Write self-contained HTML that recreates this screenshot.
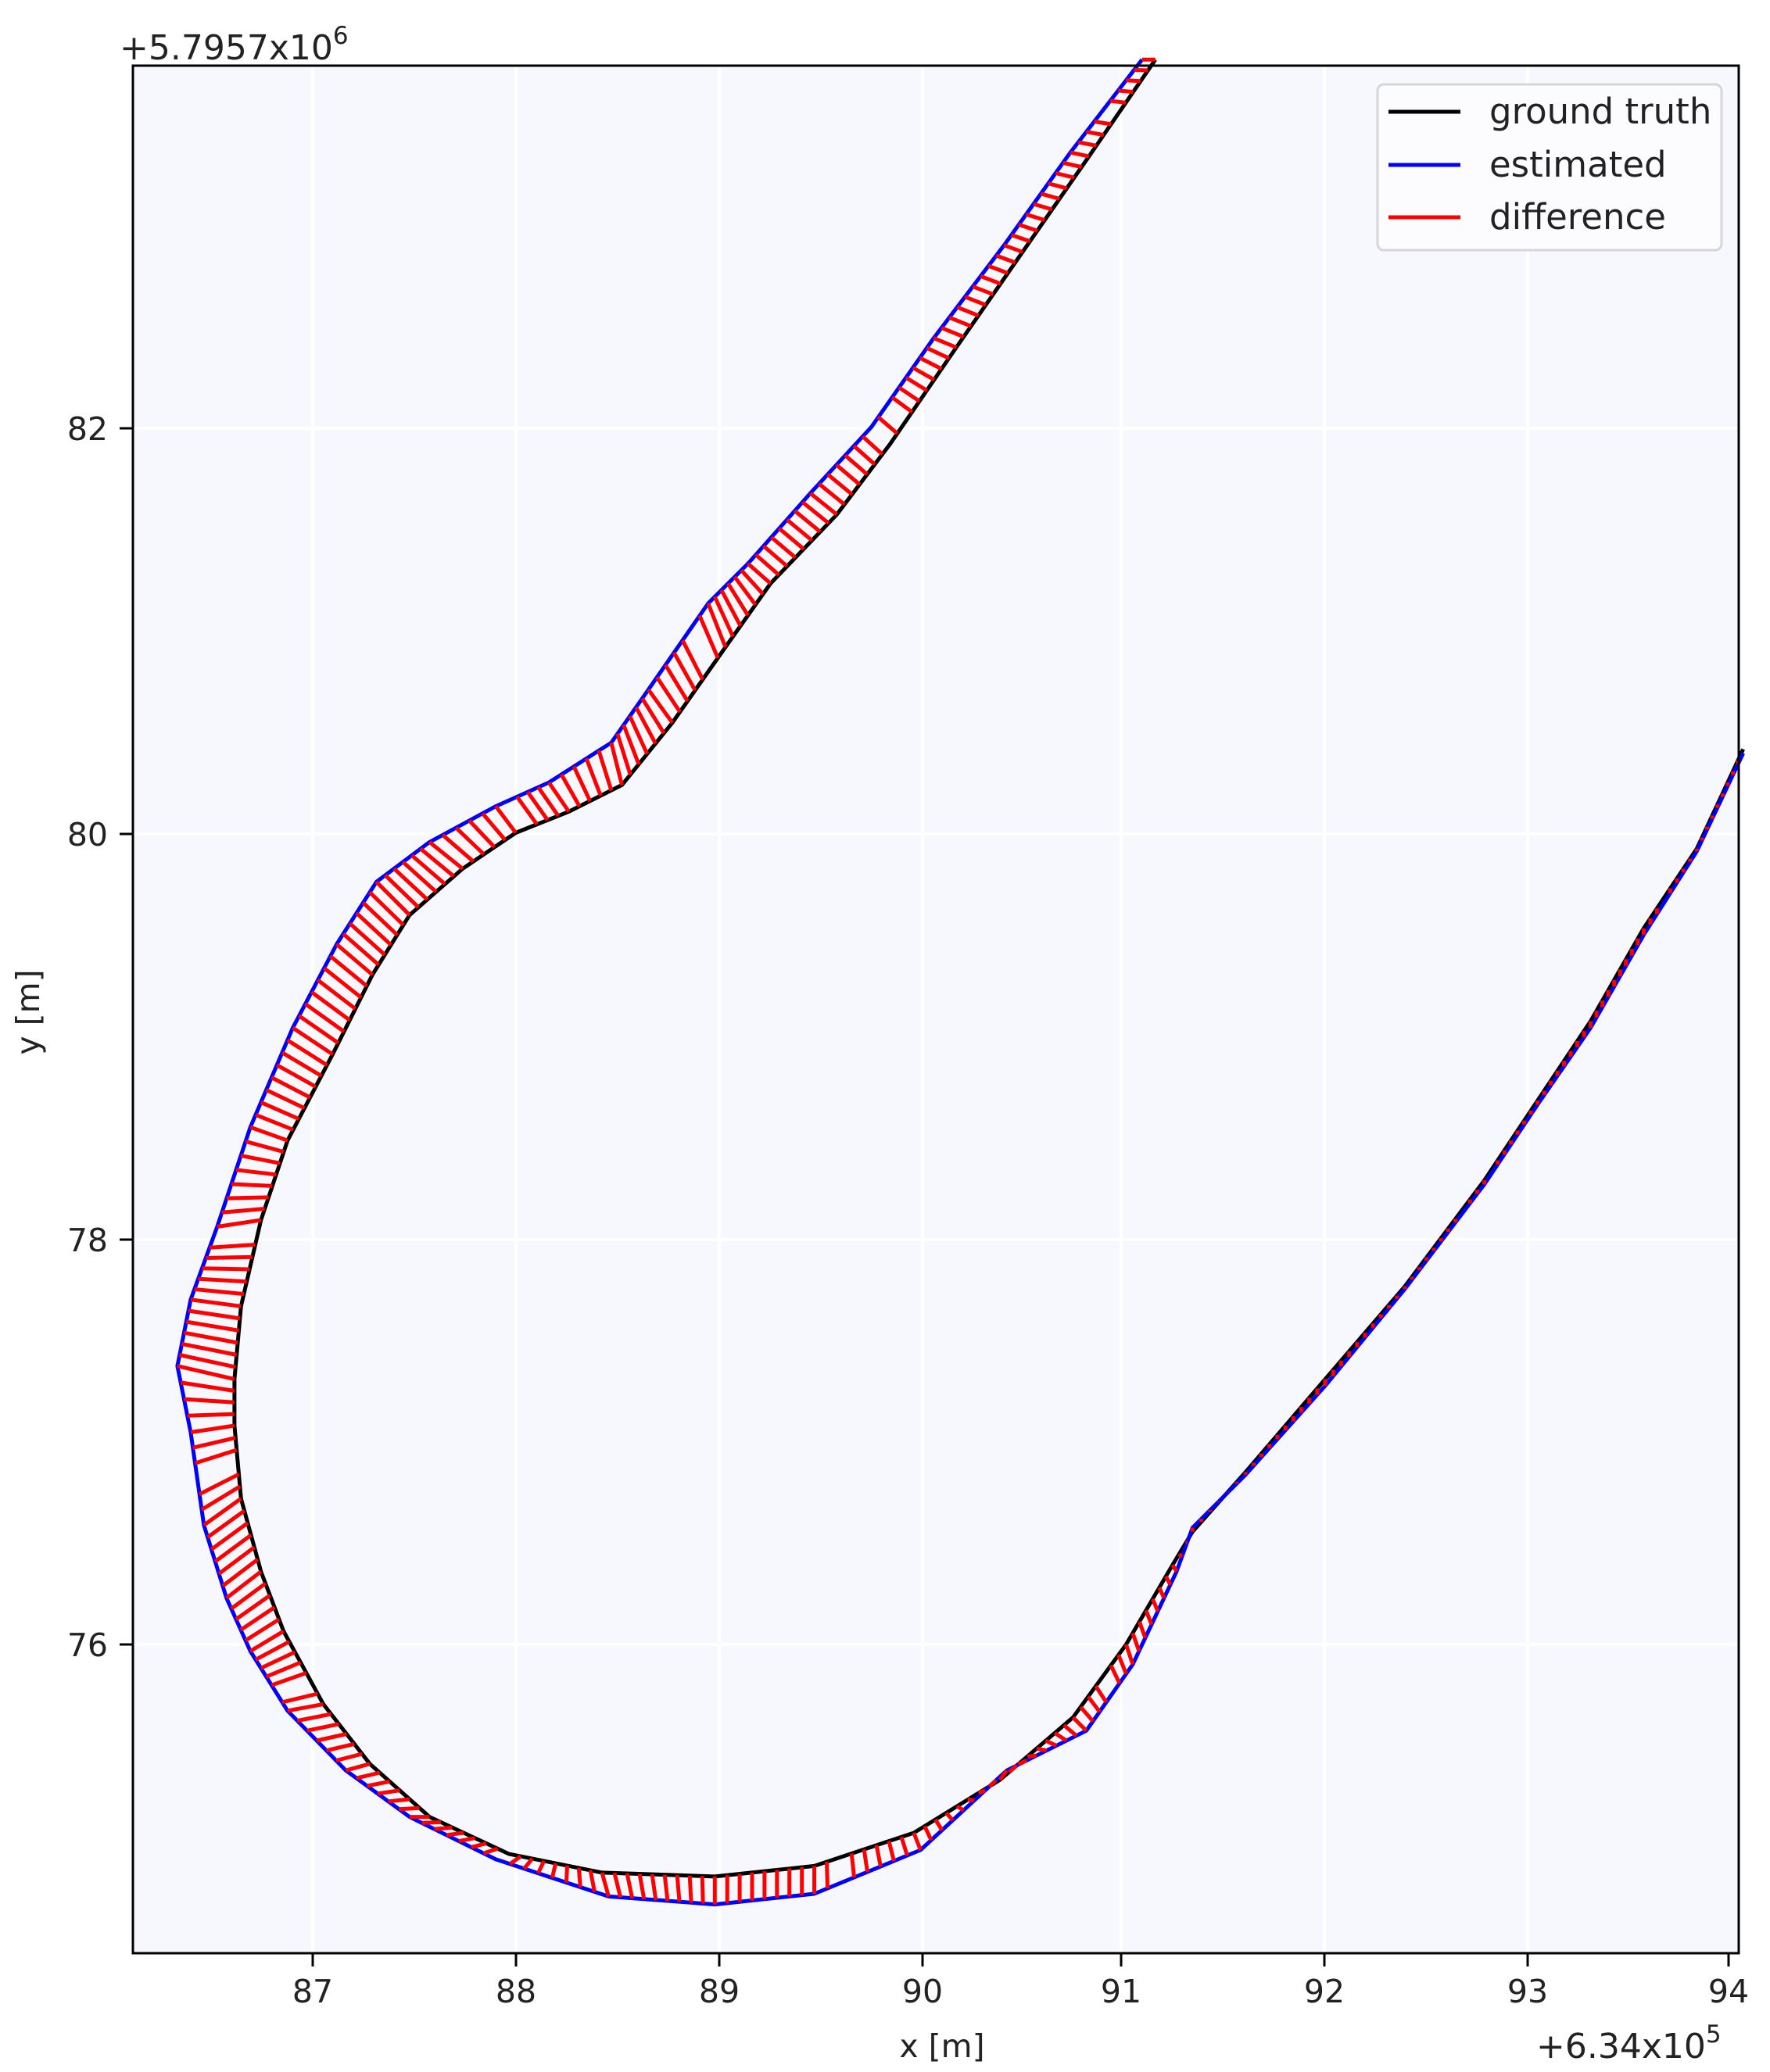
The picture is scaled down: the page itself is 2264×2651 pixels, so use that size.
<!DOCTYPE html>
<html><head><meta charset="utf-8"><style>
html,body{margin:0;padding:0;background:#fff;}
svg{display:block;font-family:"DejaVu Sans","Liberation Sans",sans-serif;}
</style></head><body>
<svg id="s" width="2264" height="2651" viewBox="0 0 2264 2651" xmlns="http://www.w3.org/2000/svg">
<rect x="0" y="0" width="2264" height="2651" fill="#fff"/>
<rect x="170" y="84" width="2054" height="2415" fill="#f7f8fe"/>
<g stroke="#fff" stroke-width="4">
<line x1="400" y1="84" x2="400" y2="2499"/><line x1="660" y1="84" x2="660" y2="2499"/>
<line x1="920" y1="84" x2="920" y2="2499"/><line x1="1180" y1="84" x2="1180" y2="2499"/>
<line x1="1434" y1="84" x2="1434" y2="2499"/><line x1="1694" y1="84" x2="1694" y2="2499"/>
<line x1="1954" y1="84" x2="1954" y2="2499"/>
<line x1="170" y1="548" x2="2224" y2="548"/><line x1="170" y1="1067" x2="2224" y2="1067"/>
<line x1="170" y1="1586" x2="2224" y2="1586"/><line x1="170" y1="2104" x2="2224" y2="2104"/>
</g>
<g id="data" fill="none" stroke-linejoin="round" stroke-linecap="butt"></g>
<rect x="170" y="84" width="2054" height="2415" fill="none" stroke="#000" stroke-width="3"/>
<g stroke="#000" stroke-width="3">
<line x1="400" y1="2499" x2="400" y2="2516"/><line x1="660" y1="2499" x2="660" y2="2516"/>
<line x1="920" y1="2499" x2="920" y2="2516"/><line x1="1180" y1="2499" x2="1180" y2="2516"/>
<line x1="1434" y1="2499" x2="1434" y2="2516"/><line x1="1694" y1="2499" x2="1694" y2="2516"/>
<line x1="1954" y1="2499" x2="1954" y2="2516"/><line x1="2211" y1="2499" x2="2211" y2="2516"/>
<line x1="153" y1="548" x2="170" y2="548"/><line x1="153" y1="1067" x2="170" y2="1067"/>
<line x1="153" y1="1586" x2="170" y2="1586"/><line x1="153" y1="2104" x2="170" y2="2104"/>
</g>
<g font-size="41" fill="#222" text-anchor="middle">
<text x="400" y="2562">87</text><text x="660" y="2562">88</text><text x="920" y="2562">89</text>
<text x="1180" y="2562">90</text><text x="1434" y="2562">91</text><text x="1694" y="2562">92</text>
<text x="1954" y="2562">93</text><text x="2211" y="2562">94</text>
</g>
<g font-size="41" fill="#222" text-anchor="end">
<text x="138" y="563">82</text><text x="138" y="1082">80</text>
<text x="138" y="1601">78</text><text x="138" y="2119">76</text>
</g>
<text x="1205" y="2632" font-size="41" fill="#222" text-anchor="middle">x [m]</text>
<text transform="translate(50,1295) rotate(-90)" font-size="41" fill="#222" text-anchor="middle">y [m]</text>
<text x="153" y="76" font-size="44" fill="#222">+5.7957x10<tspan dy="-20" font-size="31">6</tspan></text>
<text x="1965" y="2633" font-size="44" fill="#222">+6.34x10<tspan dy="-20" font-size="31">5</tspan></text>
<rect x="1762" y="108" width="440" height="212" rx="8" fill="#fcfcfe" fill-opacity="0.9" stroke="#d6d6d6" stroke-width="3"/>
<line x1="1776" y1="143" x2="1868" y2="143" stroke="#000" stroke-width="5"/>
<line x1="1776" y1="211" x2="1868" y2="211" stroke="#00f" stroke-width="5"/>
<line x1="1776" y1="278" x2="1868" y2="278" stroke="#f00" stroke-width="5"/>
<g font-size="45" fill="#222">
<text x="1905" y="158">ground truth</text>
<text x="1905" y="226">estimated</text>
<text x="1905" y="293">difference</text>
</g>
</svg>
<script>
var P=[[872,45,862,45],[822,118,808,115],[772,190,758,185],[722,262,705,255],[672,335,658,322],[632,388,612,372],[582,440,565,425],[548,488,535,455],[508,545,490,520],[470,592,462,560],[430,612,415,590],[390,628,375,608],[350,655,325,635],[310,690,285,665],[282,735,255,712],[252,795,222,775],[218,860,190,850],[198,920,165,925],[183,985,145,980],[178,1040,135,1030],[178,1075,145,1080],[183,1130,155,1150],[198,1185,172,1205],[215,1230,190,1245],[245,1285,218,1290],[280,1330,262,1335],[325,1370,310,1370],[385,1398,375,1402],[455,1412,460,1430],[540,1415,540,1436],[615,1407,615,1428],[690,1382,695,1395],[755,1342,760,1335],[810,1295,820,1305],[850,1240,855,1255],[885,1180,888,1185],[900,1155,900,1152],[940,1110,940,1112],[1000,1040,1000,1045],[1060,970,1060,972],[1120,890,1120,893],[1160,830,1160,833],[1200,770,1200,775],[1240,700,1240,705],[1280,640,1280,642],[1315,565,1315,568]];
function X(v){return 170+(v-100)*1.7}function Y(v){return v*1.697}
// calibrate: displayed 237->400 ; 100->? use linear fit
function X(v){return 400+(v-237)*((2211-400)/(1304-237))}
function Y(v){return 548+(v-323)*((2104-548)/(1240-323))}
var g=document.getElementById('data'),ns='http://www.w3.org/2000/svg';
function pl(idx,col,w){var d='';P.forEach(function(p,i){d+=(i?'L':'M')+X(p[idx]).toFixed(1)+','+Y(p[idx+1]).toFixed(1)});var e=document.createElementNS(ns,'path');e.setAttribute('d',d);e.setAttribute('stroke',col);e.setAttribute('stroke-width',w);g.appendChild(e);}
pl(0,'#000',5);pl(2,'#00f',5);
var r='';
for(var i=0;i<P.length-1;i++){var a=P[i],b=P[i+1];
 var L=Math.hypot(X(b[0])-X(a[0]),Y(b[1])-Y(a[1]));var n=Math.max(1,Math.round(L/16));
 for(var k=0;k<n;k++){var t=k/n;
  var gx=X(a[0]+(b[0]-a[0])*t),gy=Y(a[1]+(b[1]-a[1])*t);
  var ex=X(a[2]+(b[2]-a[2])*t),ey=Y(a[3]+(b[3]-a[3])*t);
  if((i*7+k)%23==5)continue;
  r+='M'+ex.toFixed(1)+','+ey.toFixed(1)+'L'+gx.toFixed(1)+','+gy.toFixed(1);}}
var e=document.createElementNS(ns,'path');e.setAttribute('d',r);e.setAttribute('stroke','#f00');e.setAttribute('stroke-width',5);g.appendChild(e);
</script>
</body></html>
